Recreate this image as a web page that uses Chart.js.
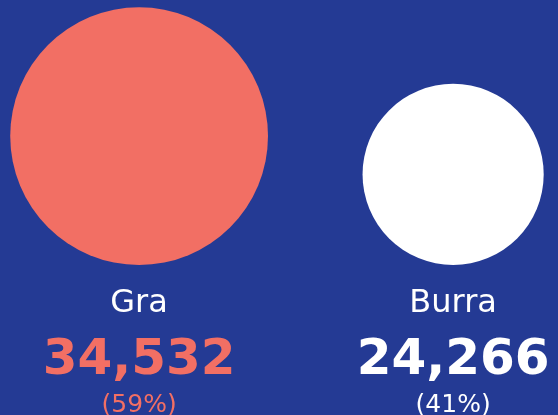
<!DOCTYPE html>
<html>
<head>
<meta charset="utf-8">
<script src="https://cdn.jsdelivr.net/npm/chart.js@4/dist/chart.umd.min.js"></script>
<style>
  html, body { margin: 0; padding: 0; background: #243a94; }
  #wrap { width: 558px; height: 415px; position: relative; }
</style>
</head>
<body>
<div id="wrap"><canvas id="c"></canvas></div>
<script>
const categories = ["Gra", "Burra"];
const values = [34532, 24266];
const positions = [0, 1];
const colors = ["#f26f64", "#ffffff"];

const total = values.reduce((a, b) => a + b, 0);
const percents = values.map(v => Math.round(v / total * 100));

function radiusFor(chart, v) {
  const s = chart.scales && chart.scales.y;
  if (!s) return 0;
  const r = Math.abs(s.getPixelForValue(0) - s.getPixelForValue(v));
  return isFinite(r) ? r : 0;
}

const labelPlugin = {
  id: "labels",
  afterDatasetsDraw(chart) {
    const ctx = chart.ctx;
    const meta = chart.getDatasetMeta(0);
    ctx.save();
    ctx.textAlign = "center";
    ctx.textBaseline = "alphabetic";
    meta.data.forEach((el, i) => {
      const x = el.x;
      ctx.fillStyle = "#ffffff";
      ctx.font = "400 32px 'DejaVu Sans'";
      ctx.fillText(categories[i], x, 312);
      ctx.fillStyle = colors[i];
      ctx.font = "700 50px 'DejaVu Sans'";
      ctx.fillText(values[i].toLocaleString("en-US"), x, 374);
      ctx.font = "400 25px 'DejaVu Sans'";
      ctx.fillText("(" + percents[i] + "%)", x, 412);
    });
    ctx.restore();
  }
};

const chart = new Chart(document.getElementById("c"), {
  type: "bubble",
  data: {
    datasets: [{
      data: values.map((v, i) => ({ x: positions[i], y: v, r: 1 })),
      backgroundColor: colors,
      hoverBackgroundColor: colors,
      borderWidth: 0,
      hoverBorderWidth: 0,
      hoverRadius: 0,
      clip: false
    }]
  },
  options: {
    responsive: true,
    maintainAspectRatio: false,
    animation: false,
    events: [],
    layout: { autoPadding: false, padding: { left: 0, right: 0, top: 0, bottom: 150 } },
    plugins: { legend: { display: false }, tooltip: { enabled: false } },
    scales: {
      x: { type: "linear", min: -0.443, max: 1.334, display: false },
      y: { type: "linear", min: 0, max: 71000, display: false }
    }
  },
  plugins: [labelPlugin]
});
// radius of each circle = its value measured on the chart's own y scale
chart.data.datasets[0].data.forEach((d, i) => { d.r = radiusFor(chart, values[i]); });
chart.update();
</script>
</body>
</html>
